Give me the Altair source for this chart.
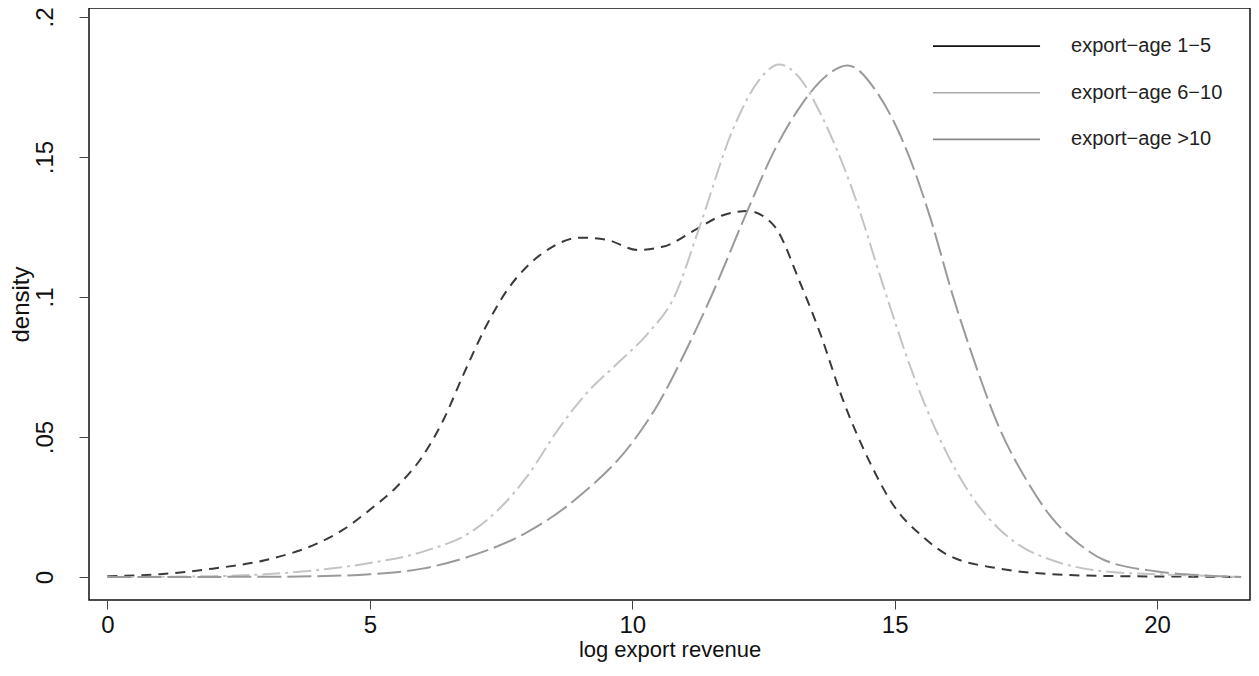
import altair as alt
import pandas as pd

# ---- data ----
series = ["export\u2212age 1\u22125", "export\u2212age 6\u221210", "export\u2212age >10"]

dark_x = [0, 1, 2, 3, 4, 4.5, 5, 5.5, 6, 6.4, 6.8, 7.2, 7.6, 8.0, 8.4, 9.0, 9.5, 10.1, 10.6,
          11.2, 11.7, 12.2, 12.7, 13.2, 13.6, 14.0, 14.5, 15, 15.5, 16, 17, 18, 19, 20, 21, 21.6]
dark_y = [0.0003, 0.001, 0.003, 0.006, 0.012, 0.017, 0.024, 0.032, 0.043, 0.056, 0.073, 0.089,
          0.102, 0.111, 0.117, 0.1212, 0.1205, 0.1168, 0.118, 0.124, 0.129, 0.1307, 0.1255, 0.105,
          0.086, 0.064, 0.042, 0.025, 0.015, 0.008, 0.003, 0.001, 0.0004, 0.0002, 0.0001, 0.0]

light_x = [0, 2, 3, 4, 5, 6, 7, 7.5, 8, 8.6, 9.1, 9.7, 10.3, 10.8, 11.3, 11.9, 12.4, 12.8, 13.2,
           13.6, 14.2, 14.8, 15.3, 16, 16.5, 17, 17.5, 18, 19, 20, 21, 21.6]
light_y = [0.0, 0.0003, 0.001, 0.0025, 0.005, 0.009, 0.017, 0.025, 0.036, 0.053, 0.065, 0.076,
           0.087, 0.100, 0.126, 0.159, 0.177, 0.183, 0.178, 0.165, 0.138, 0.103, 0.075, 0.044,
           0.028, 0.017, 0.010, 0.006, 0.002, 0.001, 0.0004, 0.0]

mid_x = [0, 3, 4, 5, 6, 7, 8, 9, 10, 10.5, 11, 11.5, 12.2, 12.7, 13.2, 13.7, 14.1, 14.7, 15.3,
         15.7, 16.1, 16.5, 17, 17.5, 18, 18.5, 19, 20, 21, 21.6]
mid_y = [0.0, 0.0001, 0.0003, 0.001, 0.003, 0.008, 0.016, 0.029, 0.048, 0.062, 0.080, 0.100,
         0.131, 0.152, 0.168, 0.179, 0.1827, 0.172, 0.149, 0.127, 0.101, 0.078, 0.053, 0.035,
         0.021, 0.012, 0.006, 0.002, 0.0005, 0.0]

x_ticks = [0, 5, 10, 15, 20]
y_ticks = [0, 0.05, 0.1, 0.15, 0.2]

# ---- styles ----
line_colors = ["#3a3a3a", "#c4c4c4", "#9a9a9a"]
legend_colors = ["#111111", "#aaaaaa", "#888888"]
dashes = [[10, 7], [18, 5, 3, 5], [24, 6]]
FONT = "Liberation Sans"

rows = []
for name, xs, ys in zip(series, [dark_x, light_x, mid_x], [dark_y, light_y, mid_y]):
    for i, (a, b) in enumerate(zip(xs, ys)):
        rows.append({"series": name, "x": a, "y": b, "order": i})
df = pd.DataFrame(rows)

X_DOMAIN = [-0.35, 21.77]
Y_DOMAIN = [-0.0082, 0.2032]

xscale = alt.Scale(domain=X_DOMAIN, nice=False, zero=False)
yscale = alt.Scale(domain=Y_DOMAIN, nice=False, zero=False)

lines = alt.Chart(df).mark_line(strokeWidth=2, interpolate="monotone", clip=True).encode(
    x=alt.X("x:Q", scale=xscale, title="log export revenue",
            axis=alt.Axis(values=x_ticks, grid=False, domain=False, tickColor="#444",
                          tickSize=9, labelFontSize=24, titleFontSize=22,
                          labelPadding=4, titlePadding=2, labelColor="#111",
                          titleColor="#111", titleFontWeight="normal", labelFlush=False)),
    y=alt.Y("y:Q", scale=yscale, title="density",
            axis=alt.Axis(values=y_ticks, grid=False, domain=False, tickColor="#444",
                          tickSize=10, labelFontSize=24, titleFontSize=24,
                          labelAngle=270, labelAlign="center", labelBaseline="bottom",
                          labelPadding=22, titlePadding=0, labelColor="#111",
                          titleColor="#111", titleFontWeight="normal", labelFlush=False,
                          labelExpr="datum.value == 0 ? '0' : replace(format(datum.value, '.2~f'), '0.', '.')")),
    color=alt.Color("series:N", scale=alt.Scale(domain=series, range=line_colors), legend=None),
    strokeDash=alt.StrokeDash("series:N", scale=alt.Scale(domain=series, range=dashes), legend=None),
    order="order:Q",
)

# ---- in-plot legend (placed in data units, top right) ----
LEG_X0, LEG_X1, LEG_TX = 15.73, 17.77, 18.36
LEG_Y0, LEG_STEP = 0.1896, 0.01665
leg = pd.DataFrame({
    "series": series,
    "x0": [LEG_X0] * 3,
    "x1": [LEG_X1] * 3,
    "tx": [LEG_TX] * 3,
    "ly": [LEG_Y0 - i * LEG_STEP for i in range(3)],
})

leg_rules = alt.Chart(leg).mark_rule(strokeWidth=1.6).encode(
    x=alt.X("x0:Q", scale=xscale),
    x2="x1:Q",
    y=alt.Y("ly:Q", scale=yscale),
    color=alt.Color("series:N", scale=alt.Scale(domain=series, range=legend_colors), legend=None),
)
leg_text = alt.Chart(leg).mark_text(align="left", baseline="middle", fontSize=20,
                                    font=FONT, color="#222").encode(
    x=alt.X("tx:Q", scale=xscale),
    y=alt.Y("ly:Q", scale=yscale),
    text="series:N",
)

chart = alt.layer(lines, leg_rules, leg_text).resolve_scale(color="independent").properties(
    width=1161, height=592,
    autosize=alt.AutoSizeParams(type="none"),
    padding={"left": 81, "top": 0, "right": 1, "bottom": 63},
).configure(font=FONT).configure_view(
    stroke="#111", strokeWidth=1.5
).configure_axis(labelFont=FONT, titleFont=FONT)

chart.save("out.html", embed_options={"renderer": "svg", "actions": False})
